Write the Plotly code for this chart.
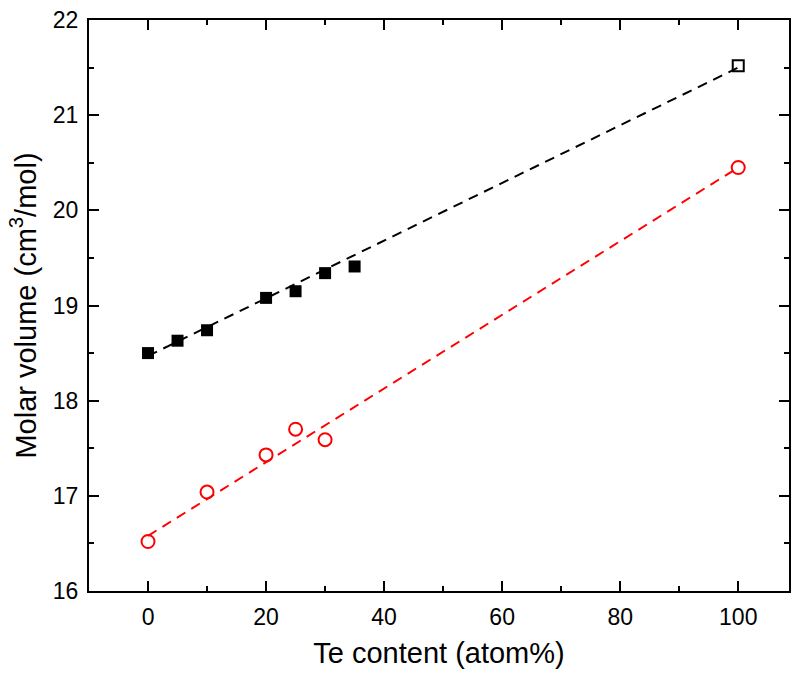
import plotly.graph_objects as go

# Data
te_black = [0, 5, 10, 20, 25, 30, 35]
vol_black = [18.50, 18.63, 18.74, 19.08, 19.15, 19.34, 19.41]
te_black_open = [100]
vol_black_open = [21.52]
fit_black_x = [0, 100]
fit_black_y = [18.47, 21.50]

te_red = [0, 10, 20, 25, 30, 100]
vol_red = [16.52, 17.04, 17.43, 17.70, 17.59, 20.45]
fit_red_x = [0, 100]
fit_red_y = [16.58, 20.45]

x_ticks = [0, 20, 40, 60, 80, 100]
y_ticks = [16, 17, 18, 19, 20, 21, 22]

FONT = "Liberation Sans, Arial, sans-serif"

fig = go.Figure()
fig.add_trace(go.Scatter(x=fit_black_x, y=fit_black_y, mode="lines",
                         line=dict(color="black", width=2, dash="10px,7px"),
                         showlegend=False, hoverinfo="skip"))
fig.add_trace(go.Scatter(x=fit_red_x, y=fit_red_y, mode="lines",
                         line=dict(color="red", width=2, dash="10px,7px"),
                         showlegend=False, hoverinfo="skip"))
fig.add_trace(go.Scatter(x=te_black, y=vol_black, mode="markers",
                         marker=dict(symbol="square", size=12, color="black",
                                     line=dict(width=0)),
                         showlegend=False))
fig.add_trace(go.Scatter(x=te_black_open, y=vol_black_open, mode="markers",
                         marker=dict(symbol="square-open", size=11, color="black",
                                     line=dict(width=2)),
                         showlegend=False))
fig.add_trace(go.Scatter(x=te_red, y=vol_red, mode="markers",
                         marker=dict(symbol="circle-open", size=13, color="red",
                                     line=dict(width=2)),
                         showlegend=False))

axis_common = dict(
    showline=True, linecolor="black", linewidth=2, mirror="ticks",
    ticks="inside", ticklen=10, tickwidth=2, tickcolor="black",
    showgrid=False, zeroline=False,
    tickfont=dict(family=FONT, size=23, color="black"),
    ticklabelstandoff=4,
)

fig.update_xaxes(range=[-10, 108.6], tickvals=x_ticks,
                 ticktext=[str(v) for v in x_ticks],
                 minor=dict(dtick=10, ticks="inside", ticklen=5, tickwidth=2,
                            tickcolor="black", showgrid=False),
                 title=dict(text="Te content (atom%)",
                            font=dict(family=FONT, size=29, color="black"),
                            standoff=14),
                 **axis_common)
fig.update_yaxes(range=[16, 22], tickvals=y_ticks,
                 ticktext=[str(v) for v in y_ticks],
                 minor=dict(dtick=0.5, ticks="inside", ticklen=5, tickwidth=2,
                            tickcolor="black", showgrid=False),
                 title=dict(text="Molar volume (cm<sup>3</sup>/mol)",
                            font=dict(family=FONT, size=29, color="black"),
                            standoff=8),
                 **axis_common)

fig.update_layout(width=792, height=675,
                  margin=dict(l=89, r=1, t=20, b=84),
                  plot_bgcolor="white", paper_bgcolor="white")

fig.write_html("out.html")
